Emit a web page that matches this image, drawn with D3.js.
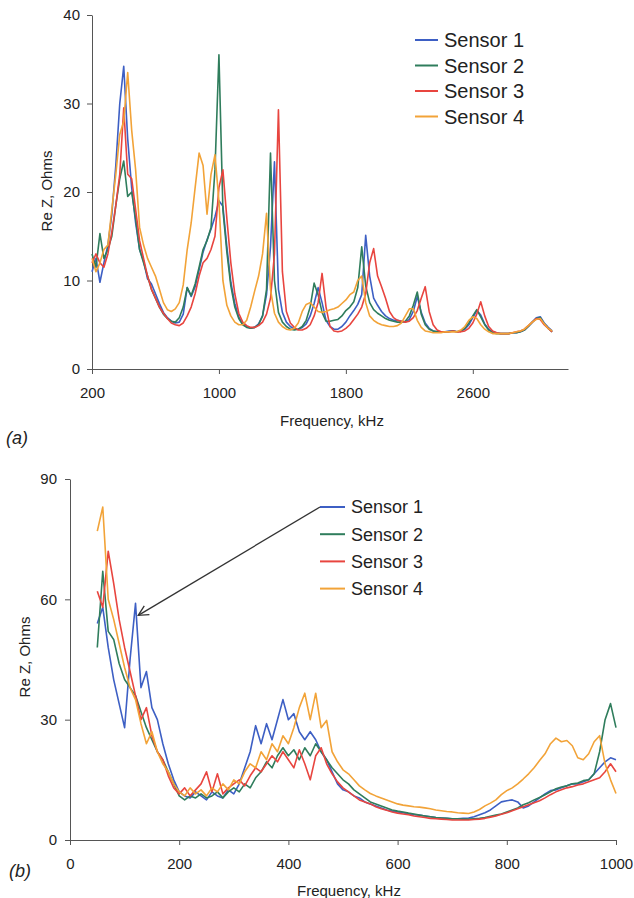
<!DOCTYPE html>
<html>
<head>
<meta charset="utf-8">
<script src="https://cdn.jsdelivr.net/npm/d3@7"></script>
<style>
  body { margin: 0; background: #fff; }
  svg { display: block; }
  text { font-family: "Liberation Sans", Arial, sans-serif; fill: #222; }
</style>
</head>
<body>
<svg width="634" height="898"></svg>
<script>
const sensors = ["Sensor 1", "Sensor 2", "Sensor 3", "Sensor 4"];
const colors = ["#3d5fc4", "#2f7d5c", "#e8453f", "#f2a338"];

// panel (a): 200..3100 kHz, every 25 kHz
const freqA = d3.range(200, 3101, 25);
const a1 = [11, 12.5, 9.8, 12, 14, 17.5, 23, 30, 34.2, 26,
  20.5, 16.5, 13.5, 12.2, 10.2, 9.6, 8.5, 7.4, 6.4, 5.8,
  5.4, 5.2, 5.3, 6.2, 9.2, 8.2, 9.3, 11.2, 13.2, 14.6,
  15.8, 17.2, 19, 18.4, 13.8, 9.8, 7.4, 5.9, 5.1, 4.8,
  4.6, 4.7, 5.1, 6, 8.4, 13.8, 23.4, 9, 6.4, 5.3,
  4.8, 4.5, 4.5, 4.7, 5.1, 6, 7.4, 9.2, 7.5, 5.5,
  4.8, 4.5, 4.5, 4.8, 5.3, 6, 6.6, 7.3, 8.4, 15.1,
  10.5, 8, 7.2, 6.5, 6, 5.7, 5.5, 5.5, 5.4, 5.3,
  5.6, 6.5, 8.2, 6.4, 5.2, 4.6, 4.3, 4.2, 4.2, 4.2,
  4.3, 4.3, 4.2, 4.3, 4.5, 5, 5.8, 6.6, 6.1, 5.1,
  4.5, 4.2, 4.1, 4, 4, 4, 4.1, 4.1, 4.2, 4.4,
  4.8, 5.3, 5.8, 5.9, 5.2, 4.7, 4.3];
const a2 = [13, 11.5, 15.3, 12.5, 13.5, 15, 18.5, 21.5, 23.5, 19.5,
  20, 17, 13.5, 12, 10.5, 9, 8, 7, 6.2, 5.7,
  5.4, 5.3, 5.8, 7, 9.2, 8.3, 9.6, 11.5, 13.5, 14.5,
  16, 22.5, 35.5, 18, 13.2, 9.4, 7, 5.7, 5, 4.7,
  4.6, 4.7, 5, 6, 9, 24.4, 10, 6.4, 5.3, 4.8,
  4.5, 4.4, 4.5, 4.8, 5.5, 7, 9.7, 8.4, 6.4, 5.4,
  5.4, 5.5, 5.6, 6, 6.6, 7, 7.6, 9.2, 13.8, 9.4,
  7.5, 6.7, 6.3, 6, 5.7, 5.5, 5.4, 5.3, 5.3, 5.4,
  6, 7.2, 8.7, 6.2, 5, 4.5, 4.3, 4.2, 4.2, 4.2,
  4.2, 4.3, 4.2, 4.3, 4.6, 5.2, 6, 6.7, 5.9, 5,
  4.4, 4.1, 4, 4, 4, 4, 4.1, 4.1, 4.2, 4.4,
  4.8, 5.3, 5.7, 5.8, 5.1, 4.6, 4.2];
const a3 = [12, 13, 12, 11.5, 13, 15.5, 18.5, 22, 29.5, 22,
  21.5, 18, 14.5, 12.5, 10.5, 9, 8, 7, 6.3, 5.7,
  5.2, 5, 4.9, 5.2, 6, 7, 8.5, 10.5, 12, 12.5,
  13.5, 15, 20.5, 22.5, 17, 12, 8.5, 6.3, 5.3, 4.9,
  4.7, 4.7, 4.9, 5.3, 6.2, 8, 13, 29.3, 11, 6.5,
  5.2, 4.7, 4.4, 4.4, 4.6, 5, 6, 7.5, 10.8, 7,
  4.8, 4.3, 4.2, 4.3, 4.6, 5, 5.6, 6.2, 7, 8.5,
  12, 13.6, 10.5, 9.3, 8, 6.5, 5.8, 5.5, 5.4, 5.3,
  5.4, 5.8, 6.6, 8, 9.3, 6.5, 5, 4.4, 4.2, 4.2,
  4.2, 4.3, 4.2, 4.2, 4.3, 4.6, 5.2, 6.2, 7.6, 6,
  4.8, 4.3, 4.1, 4, 4, 4, 4.1, 4.2, 4.3, 4.5,
  4.9, 5.3, 5.7, 5.6, 5, 4.6, 4.2];
const a4 = [12.5, 11, 12, 13.5, 14, 18, 22, 26.5, 28, 33.5,
  27, 22.5, 16, 14, 12.5, 11.5, 10.5, 9, 7.5, 6.7,
  6.5, 6.8, 7.5, 9.5, 13.5, 16.5, 20.5, 24.4, 23, 17.5,
  22, 24.2, 19, 10, 7.2, 6, 5.3, 5, 5, 5.5,
  7, 8.8, 10.5, 13, 17.6, 9, 6.3, 5.3, 4.8, 4.5,
  4.4, 4.6, 5.2, 6.5, 7.3, 7.5, 7, 6.5, 6.4, 6.5,
  6.7, 6.8, 7, 7.4, 7.8, 8.4, 8.7, 10, 10.5, 7.5,
  6, 5.5, 5.2, 5, 4.9, 4.8, 4.8, 4.9, 5.2, 6,
  6.8, 6.8, 5.5, 4.7, 4.3, 4.2, 4.1, 4.1, 4.1, 4.2,
  4.2, 4.2, 4.2, 4.4, 4.8, 5.5, 5.9, 5.7, 5, 4.5,
  4.2, 4, 4, 4, 4, 4, 4.1, 4.2, 4.3, 4.5,
  4.9, 5.3, 5.6, 5.7, 5.1, 4.6, 4.3];
const ticksAX = [200, 1000, 1800, 2600];
const ticksAY = [0, 10, 20, 30, 40];

// panel (b): 50..1000 kHz, every 10 kHz
const freqB = d3.range(50, 1001, 10);
const b1 = [54, 58, 48, 40, 34, 28, 45, 59, 38, 42,
  33, 30, 24, 19, 15, 12, 11, 10.5, 12, 11,
  10, 12, 11, 10.5, 12.5, 11.5, 14, 18, 22, 28.5,
  24, 29, 25, 30, 35, 30, 31.5, 27, 25, 27,
  25, 22, 20, 17, 14, 12.5, 12, 11, 10.5, 9.5,
  9, 8.5, 8, 7.5, 7.2, 7, 6.8, 6.5, 6.3, 6.2,
  6, 5.8, 5.6, 5.5, 5.4, 5.3, 5.3, 5.4, 5.5, 5.8,
  6.3, 6.8, 7.5, 8.5, 9.5, 9.8, 10, 9.5, 8, 8.5,
  9.5, 10.5, 11.5, 12.3, 12.5, 13, 13.5, 14, 14, 14.5,
  15, 16.5, 18, 19.5, 20.5, 20];
const b2 = [48, 67, 52, 50, 44, 40, 38, 36, 32, 28,
  25, 22, 20, 17, 14, 11, 10, 11, 10.5, 11.5,
  10.5, 11, 12, 10.5, 12, 13, 12, 14, 13, 15.5,
  17, 19.5, 18, 21, 23, 21, 22.5, 20, 23, 21,
  24, 22, 20, 18, 16.5, 15, 14, 12.5, 11.5, 10.5,
  9.5, 9, 8.5, 8, 7.5, 7.2, 7, 6.7, 6.5, 6.2,
  6, 5.8, 5.6, 5.5, 5.4, 5.3, 5.3, 5.2, 5.2, 5.3,
  5.4, 5.6, 5.9, 6.2, 6.5, 7, 7.5, 8, 8.8, 9.3,
  10, 10.6, 11.3, 12, 12.8, 13.2, 13.5, 14, 14.2, 14.8,
  15, 16.5, 22, 30, 34, 28];
const b3 = [62, 58, 72, 64, 55, 48, 42, 36, 30, 33,
  26, 22, 20, 16, 13, 11.5, 13, 11, 12.5, 14,
  17, 12, 16.5, 11.5, 13, 14, 15, 13.5, 16, 18,
  17, 19, 21, 19.5, 22, 20, 18, 22.5, 19, 15,
  21, 23, 19, 16.5, 14.5, 13, 12, 11, 10, 9.5,
  9, 8.3, 7.8, 7.4, 7, 6.7, 6.5, 6.3, 6, 5.8,
  5.6, 5.4, 5.3, 5.2, 5.1, 5, 5, 5, 5, 5.1,
  5.2, 5.4, 5.7, 6, 6.4, 6.8, 7.3, 7.8, 8.3, 8.8,
  9.3, 9.8, 10.5, 11.3, 12, 12.5, 13, 13.3, 13.7, 14,
  14.5, 15, 15.5, 17, 19, 17];
const b4 = [77, 83, 60, 55, 49, 43, 38, 35, 29, 24,
  27, 22, 19, 17, 14, 12, 11, 13, 11.5, 12.5,
  11, 13, 12, 14, 12.5, 15, 14, 17, 19, 18,
  22, 20, 24, 22, 26, 24, 28, 33, 36.6, 30,
  36.6, 28, 29.8, 22, 19.5, 17.5, 16.5, 15, 13.5, 12.5,
  11.6, 11, 10.5, 10, 9.5, 9, 8.7, 8.5, 8.3, 8.2,
  8, 7.8, 7.5, 7.3, 7.1, 7, 6.8, 6.7, 6.6, 7,
  7.6, 8.5, 9.2, 10, 11.3, 12.3, 13, 14, 15.2, 16.5,
  18, 19.8, 21.5, 24, 25.4, 24.5, 24.8, 23.5, 20.5, 20,
  21.5, 24.5, 26, 19, 15, 11.6];
const ticksBX = [0, 200, 400, 600, 800, 1000];
const ticksBY = [0, 30, 60, 90];

const svg = d3.select("svg");

function styleAxis(g, size) {
  g.attr("font-family", '"Liberation Sans", Arial, sans-serif').attr("font-size", size);
  g.selectAll("path, line").attr("stroke", "#555");
  g.selectAll("text").attr("fill", "#222");
}

function drawPanel(p) {
  const x = d3.scaleLinear().domain(p.xDomain).range(p.xRange);
  const y = d3.scaleLinear().domain(p.yDomain).range(p.yRange);

  svg.append("g")
    .attr("transform", `translate(0,${p.yRange[0]})`)
    .call(d3.axisBottom(x).tickValues(p.xTicks).tickFormat(d3.format("d"))
      .tickSize(5).tickPadding(13).tickSizeOuter(0))
    .call(g => styleAxis(g, 15));

  svg.append("g")
    .attr("transform", `translate(${p.xRange[0]},0)`)
    .call(d3.axisLeft(y).tickValues(p.yTicks).tickFormat(d3.format("d"))
      .tickSize(5).tickPadding(p.yPad).tickSizeOuter(0))
    .call(g => styleAxis(g, 15));

  const line = d3.line().x((d, i) => x(p.freq[i])).y(d => y(d));
  p.series.forEach((s, k) => {
    svg.append("path")
      .datum(s)
      .attr("fill", "none")
      .attr("stroke", colors[k])
      .attr("stroke-width", 1.6)
      .attr("stroke-linejoin", "round")
      .attr("d", line);
  });

  svg.append("text")
    .attr("x", p.xTitle[0]).attr("y", p.xTitle[1])
    .attr("text-anchor", "middle").attr("font-size", 15)
    .text("Frequency, kHz");

  svg.append("text")
    .attr("transform", `translate(${p.yTitle[0]},${p.yTitle[1]}) rotate(-90)`)
    .attr("text-anchor", "middle").attr("font-size", 15)
    .text("Re Z, Ohms");

  svg.append("text")
    .attr("x", p.tag[0]).attr("y", p.tag[1])
    .attr("font-size", 18).attr("font-style", "italic")
    .text(p.tagText);

  const lg = svg.append("g").attr("transform", `translate(${p.legend[0]},${p.legend[1]})`);
  sensors.forEach((name, k) => {
    const row = lg.append("g").attr("transform", `translate(0,${k * p.legend[2]})`);
    row.append("line").attr("x1", 0).attr("x2", p.legend[3])
      .attr("stroke", colors[k]).attr("stroke-width", 2);
    row.append("text").attr("x", p.legend[3] + 6).attr("dy", "0.35em")
      .attr("font-size", p.legend[4]).text(name);
  });

  return { x, y };
}

drawPanel({
  freq: freqA, series: [a1, a2, a3, a4],
  xDomain: [200, 3200], xRange: [92, 568],
  yDomain: [0, 40], yRange: [369, 15],
  xTicks: ticksAX, yTicks: ticksAY, yPad: 7,
  xTitle: [332, 426], yTitle: [52, 191],
  tag: [6, 444], tagText: "(a)",
  legend: [415, 40, 25.5, 23, 20]
});

const pb = drawPanel({
  freq: freqB, series: [b1, b2, b3, b4],
  xDomain: [0, 1000], xRange: [70, 616],
  yDomain: [0, 90], yRange: [840, 479],
  xTicks: ticksBX, yTicks: ticksBY, yPad: 8,
  xTitle: [349, 896], yTitle: [30, 657],
  tag: [9, 877], tagText: "(b)",
  legend: [320, 507, 27.2, 25, 18]
});

// arrow from the legend to the Sensor 1 spike
svg.append("defs").append("marker")
  .attr("id", "head").attr("viewBox", "0 0 12 12")
  .attr("refX", 11).attr("refY", 6)
  .attr("markerWidth", 12).attr("markerHeight", 12)
  .attr("markerUnits", "userSpaceOnUse")
  .attr("orient", "auto")
  .append("path").attr("d", "M1,1 L11,6 L1,11")
  .attr("fill", "none").attr("stroke", "#333").attr("stroke-width", 1.3);

svg.append("line")
  .attr("x1", 320).attr("y1", 507)
  .attr("x2", pb.x(125)).attr("y2", pb.y(56))
  .attr("stroke", "#333").attr("stroke-width", 1.3)
  .attr("marker-end", "url(#head)");
</script>
</body>
</html>
